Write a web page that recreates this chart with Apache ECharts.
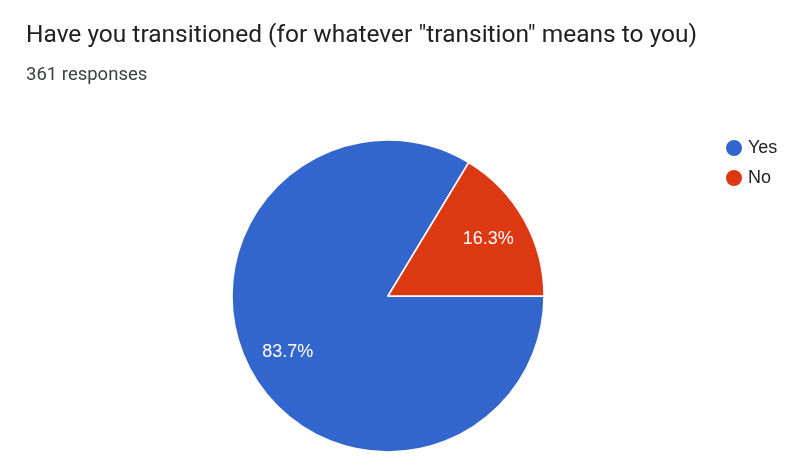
<!DOCTYPE html>
<html>
<head>
<meta charset="utf-8">
<script src="https://cdn.jsdelivr.net/npm/echarts@6/dist/echarts.min.js"></script>
<style>
html, body { margin: 0; padding: 0; background: #fff; }
#chart { width: 801px; height: 459px; }
</style>
</head>
<body>
<div id="chart"></div>
<script>
var categories = ['Yes', 'No'];
var counts = [302, 59];
var colors = ['#3366cc', '#dc3912'];

var pieData = categories.map(function(name, i) {
	return {name: name, value: counts[i], itemStyle: {color: colors[i]}};
});

var chart = echarts.init(document.getElementById('chart'));
chart.setOption({
	animation: false,
	title: {
		text: 'Have you transitioned (for whatever "transition" means to you)',
		subtext: '361 responses',
		left: 26,
		top: 23,
		padding: 0,
		itemGap: 18,
		textStyle: {fontFamily: 'Roboto', fontSize: 24.5, fontWeight: 'normal', color: '#202124'},
		subtextStyle: {fontFamily: 'Roboto', fontSize: 18.5, color: '#3c4043'}
	},
	legend: {
		orient: 'vertical',
		left: 724,
		top: 138,
		padding: 0,
		icon: 'circle',
		itemWidth: 18,
		itemHeight: 18,
		itemGap: 10,
		data: categories.map(function(name, i) {
			return {name: name, itemStyle: {color: colors[i]}};
		}),
		textStyle: {fontFamily: 'Arial', fontSize: 18, color: '#222222'}
	},
	series: [
		{
			// slices
			type: 'pie',
			center: [388, 296],
			radius: 156,
			startAngle: 0,
			clockwise: true,
			silent: true,
			label: {show: false},
			labelLine: {show: false},
			itemStyle: {borderColor: '#ffffff', borderWidth: 1.5},
			data: pieData
		},
		{
			// labels only, pushed out to ~0.72 of the radius
			type: 'pie',
			center: [388, 296],
			radius: 224,
			startAngle: 0,
			clockwise: true,
			silent: true,
			percentPrecision: 1,
			itemStyle: {color: 'transparent'},
			label: {
				show: true,
				position: 'inside',
				formatter: '{d}%',
				fontFamily: 'Arial',
				fontSize: 18,
				color: '#ffffff'
			},
			labelLine: {show: false},
			data: categories.map(function(name, i) {
				return {name: name, value: counts[i]};
			})
		}
	]
});
</script>
</body>
</html>
